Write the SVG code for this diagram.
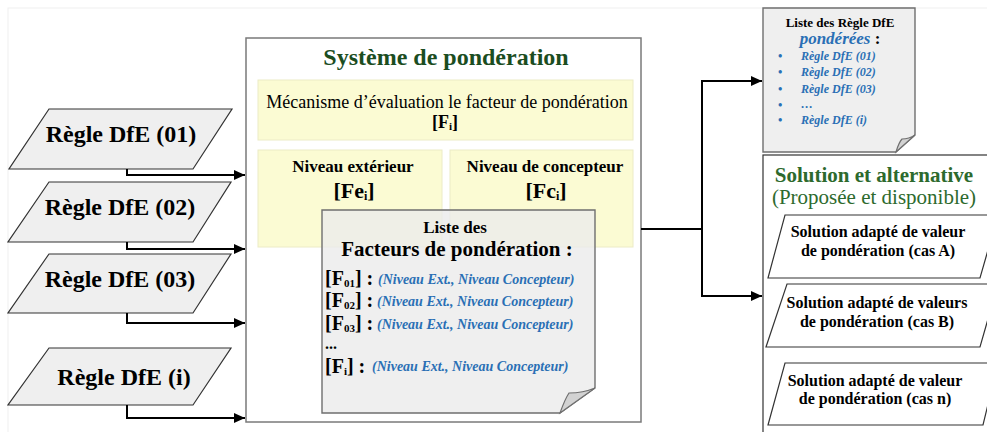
<svg xmlns="http://www.w3.org/2000/svg" width="987" height="432" viewBox="0 0 987 432" font-family="'Liberation Serif', 'DejaVu Serif', serif">
<defs>
<style>
text{font-family:"Liberation Serif","DejaVu Serif",serif}
.b{font-weight:bold}
.bi{font-weight:bold;font-style:italic}
.blue{fill:#2a6fb5}
.para{fill:#efefef;stroke:#333;stroke-width:1.2}
.sol{fill:#ffffff;stroke:#333;stroke-width:1.2}
.yel{fill:#fbfbd3;stroke:#ecebc6;stroke-width:1}
.doc{fill:#ececec;fill-opacity:0.82;stroke:#6f6f6f;stroke-width:1.4}
.fold{fill:#d2d2d2;stroke:#6f6f6f;stroke-width:1.2}
.conn{fill:none;stroke:#000;stroke-width:2}
</style>
<marker id="arr" markerUnits="userSpaceOnUse" markerWidth="11" markerHeight="10" refX="11" refY="5" orient="auto">
<path d="M0,0 L11,5 L0,10 Z" fill="#000"/>
</marker>
</defs>
<rect x="0" y="0" width="987" height="432" fill="#fff"/>
<rect x="8" y="8" width="990" height="440" fill="none" stroke="#f0f0f0" stroke-width="1"/>

<g id="regle-01">
<polygon class="para" points="49,109 232,109 193,169 9,169"/>
<text class="b" x="121" y="142" font-size="24" text-anchor="middle">Règle DfE (01)</text>
</g>
<g id="regle-02">
<polygon class="para" points="49,182 231,182 193,242 8,242"/>
<text class="b" x="120" y="215" font-size="24" text-anchor="middle">Règle DfE (02)</text>
</g>
<g id="regle-03">
<polygon class="para" points="49,254 231,254 193,313 8,313"/>
<text class="b" x="120" y="287" font-size="24" text-anchor="middle">Règle DfE (03)</text>
</g>
<g id="regle-i">
<polygon class="para" points="49,348 231,348 193,405 8,405"/>
<text class="b" x="124" y="385" font-size="24" text-anchor="middle">Règle DfE (i)</text>
</g>

<g id="systeme">
<rect x="246" y="38" width="395" height="384" fill="#fff" stroke="#7a7a7a" stroke-width="1.5"/>
<text class="b" x="446" y="65" font-size="24" fill="#1b4d1f" text-anchor="middle">Système de pondération</text>
</g>
<g id="mecanisme">
<rect class="yel" x="258" y="80" width="375" height="60"/>
<text x="447" y="108" font-size="18" text-anchor="middle">Mécanisme d’évaluation le facteur de pondération</text>
<text class="b" x="445" y="128" font-size="18" text-anchor="middle">[F<tspan font-size="11" dy="2">i</tspan><tspan dy="-2">]</tspan></text>
</g>
<g id="niveau-ext">
<rect class="yel" x="258" y="150" width="184" height="97"/>
<text class="b" x="353" y="172" font-size="17" text-anchor="middle">Niveau extérieur</text>
<text class="b" x="354" y="198" font-size="22" text-anchor="middle">[Fe<tspan font-size="12" dy="2">i</tspan><tspan dy="-2">]</tspan></text>
</g>
<g id="niveau-conc">
<rect class="yel" x="450" y="150" width="183" height="97"/>
<text class="b" x="545" y="172" font-size="17" text-anchor="middle">Niveau de concepteur</text>
<text class="b" x="546" y="198" font-size="22" text-anchor="middle">[Fc<tspan font-size="12" dy="2">i</tspan><tspan dy="-2">]</tspan></text>
</g>
<g id="liste-facteurs">
<path class="doc" d="M322,210 H595 V388 L560,413 H322 Z"/>
<path class="fold" d="M560,413 Q565,399 569,393 Q583,393 595,388 Z"/>
<text class="b" x="455" y="233" font-size="17" text-anchor="middle">Liste des</text>
<text class="b" x="457" y="256" font-size="21" text-anchor="middle">Facteurs de pondération :</text>
<text class="b" x="325" y="285" font-size="20">[F<tspan font-size="11" dy="2">01</tspan><tspan dy="-2">] :</tspan></text>
<text class="bi blue" x="378" y="284" font-size="14">(Niveau Ext., Niveau Concepteur)</text>
<text class="b" x="325" y="307" font-size="20">[F<tspan font-size="11" dy="2">02</tspan><tspan dy="-2">] :</tspan></text>
<text class="bi blue" x="377" y="306" font-size="14">(Niveau Ext., Niveau Concepteur)</text>
<text class="b" x="325" y="330" font-size="20">[F<tspan font-size="11" dy="2">03</tspan><tspan dy="-2">] :</tspan></text>
<text class="bi blue" x="377" y="329" font-size="14">(Niveau Ext., Niveau Concepteur)</text>
<text class="b" x="325" y="349" font-size="16">...</text>
<text class="b" x="325" y="373" font-size="20">[F<tspan font-size="11" dy="2">i</tspan><tspan dy="-2">] :</tspan></text>
<text class="bi blue" x="372" y="371" font-size="14">(Niveau Ext., Niveau Concepteur)</text>
</g>

<g id="liste-regles">
<path class="doc" d="M763,8 H915 V135 L896,152 H763 Z"/>
<path class="fold" d="M896,152 Q899,142 902,139 Q909,139 915,135 Z"/>
<text class="b" x="840" y="27" font-size="13" text-anchor="middle">Liste des Règle DfE</text>
<text class="b" x="840" y="44" font-size="17" text-anchor="middle"><tspan class="blue" font-style="italic">pondérées</tspan> :</text>
<g class="bi blue" font-size="12">
<text x="778" y="60">•</text><text x="801" y="60">Règle DfE (01)</text>
<text x="778" y="76">•</text><text x="801" y="76">Règle DfE (02)</text>
<text x="778" y="93">•</text><text x="801" y="93">Règle DfE (03)</text>
<text x="778" y="109">•</text><text x="801" y="108">…</text>
<text x="778" y="124">•</text><text x="801" y="124">Règle DfE (i)</text>
</g>
</g>

<g id="solutions">
<rect x="763" y="155" width="232" height="290" fill="#fff" stroke="#333" stroke-width="1.2"/>
<text class="b" x="874" y="182" font-size="21" fill="#2d6a2d" text-anchor="middle">Solution et alternative</text>
<text x="874" y="204" font-size="21" fill="#2d6a2d" text-anchor="middle">(Proposée et disponible)</text>
</g>
<g id="solution-a">
<polygon class="sol" points="785,215 998,215 980,278 768,278"/>
<text class="b" x="878" y="237" font-size="16" text-anchor="middle">Solution adapté de valeur</text>
<text class="b" x="878" y="256" font-size="16" text-anchor="middle">de pondération (cas A)</text>
</g>
<g id="solution-b">
<polygon class="sol" points="787,284 998,284 980,347 766,347"/>
<text class="b" x="877" y="308" font-size="16" text-anchor="middle">Solution adapté de valeurs</text>
<text class="b" x="877" y="327" font-size="16" text-anchor="middle">de pondération (cas B)</text>
</g>
<g id="solution-n">
<polygon class="sol" points="785,363 998,363 983,425 768,425"/>
<text class="b" x="875" y="386" font-size="16" text-anchor="middle">Solution adapté de valeur</text>
<text class="b" x="875" y="404" font-size="16" text-anchor="middle">de pondération (cas n)</text>
</g>

<g id="connectors">
<path class="conn" d="M127,169 V175 H245" marker-end="url(#arr)"/>
<path class="conn" d="M127,242 V249 H245" marker-end="url(#arr)"/>
<path class="conn" d="M127,313 V323 H245" marker-end="url(#arr)"/>
<path class="conn" d="M127,405 V418 H245" marker-end="url(#arr)"/>
<path class="conn" d="M641,229 H702 V81 H762" marker-end="url(#arr)"/>
<path class="conn" d="M702,229 V296 H762" marker-end="url(#arr)"/>
</g>
</svg>
